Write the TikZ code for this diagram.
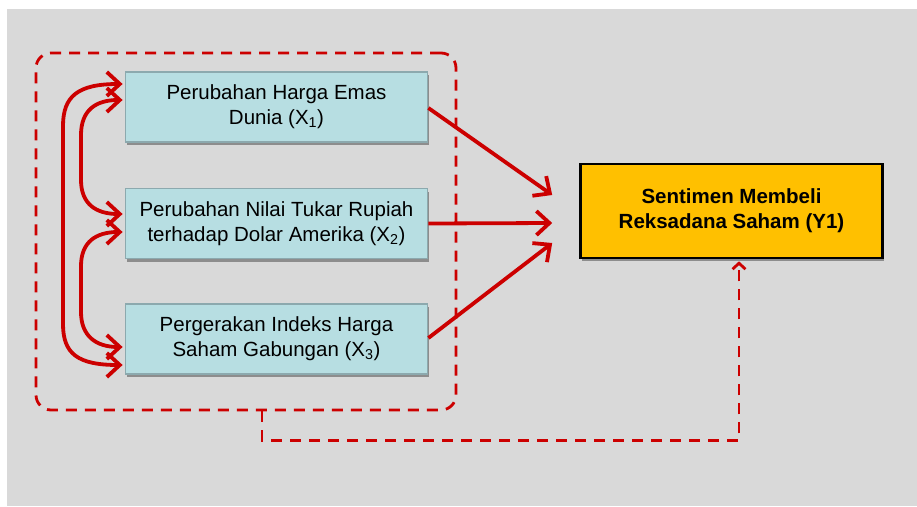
\documentclass[tikz,border=0pt]{standalone}
\usepackage{fontspec}
\setmainfont{Liberation Sans}
\usetikzlibrary{arrows.meta,calc,shadows}
\definecolor{bggray}{HTML}{D9D9D9}
\definecolor{myred}{HTML}{CC0000}
\definecolor{boxfill}{HTML}{B7DEE2}
\definecolor{boxborder}{HTML}{8CA9AE}
\definecolor{gold}{HTML}{FFC000}
\begin{document}
\begin{tikzpicture}[x=1pt,y=-1pt,
  xbox/.style={draw=boxborder, line width=1.8pt, fill=boxfill,
    minimum width=302pt, minimum height=70pt, align=center, inner sep=0pt,
    font=\fontsize{20.5}{25}\selectfont,
    drop shadow={shadow xshift=1.5pt, shadow yshift=-3pt, opacity=0.35, fill=black}},
  ybox/.style={draw=black, line width=2.6pt, fill=gold,
    minimum width=302pt, minimum height=94pt, align=center, inner sep=0pt,
    font=\fontsize{20.5}{25}\selectfont\bfseries,
    drop shadow={shadow xshift=1.5pt, shadow yshift=-3pt, opacity=0.35, fill=black}},
  bigtip/.tip={Straight Barb[length=13pt,width=24pt]},
  redarrow/.style={draw=myred, line width=3.8pt, -bigtip},
  dblarrow/.style={draw=myred, line width=3.8pt, bigtip-bigtip},
  dashline/.style={draw=myred, line width=2.8pt, dash pattern=on 11pt off 8pt}
]
\useasboundingbox (0,0) rectangle (917,506);
\fill[white] (0,0) rectangle (917,506);
\fill[bggray] (7,9) rectangle (917,506);

% group
\node (grp) [dashline, rounded corners=15pt, minimum width=420pt, minimum height=357pt, inner sep=0pt] at (246,231.5) {};

% boxes
\node (x1) [xbox] at (276.5,107) {Perubahan Harga Emas\\Dunia (X\textsubscript{1})};
\node (x2) [xbox] at (276.5,223.5) {Perubahan Nilai Tukar Rupiah\\terhadap Dolar Amerika (X\textsubscript{2})};
\node (x3) [xbox] at (276.5,339) {Pergerakan Indeks Harga\\Saham Gabungan (X\textsubscript{3})};
\node (y) [ybox] at (731.5,211) {Sentimen Membeli\\Reksadana Saham (Y1)};

% arrows to Y
\draw[redarrow] ($(x1.east)+(0,1)$) -- ($(y.west)+(-27,-16)$);
\draw[redarrow] (x2.east) -- ($(y.west)+(-27,12)$);
\draw[redarrow] ($(x3.east)+(0,-1)$) -- ($(y.west)+(-27,32)$);

% correlation arrows
\draw[dblarrow] ($(x1.west)+(-2,-23)$) .. controls (78,84) and (63,96) .. (63,126) -- (63,324) .. controls (63,354) and (78,365) .. ($(x3.west)+(-2,26)$);
\draw[dblarrow] ($(x1.west)+(-2,-7)$) .. controls (96,100) and (81,110) .. (81,135) -- (81,180) .. controls (81,204) and (96,214) .. ($(x2.west)+(-2,-9.5)$);
\draw[dblarrow] ($(x2.west)+(-2,8.5)$) .. controls (96,232) and (81,242) .. (81,266) -- (81,312) .. controls (81,336) and (96,347) .. ($(x3.west)+(-2,8)$);

% dashed connector
\draw[dashline, -{Straight Barb[length=6pt,width=13pt]}] ($(grp.south)+(16,0)$) -- ++(0,29) -| ($(y.south)+(7.5,2)$);
\end{tikzpicture}
\end{document}
